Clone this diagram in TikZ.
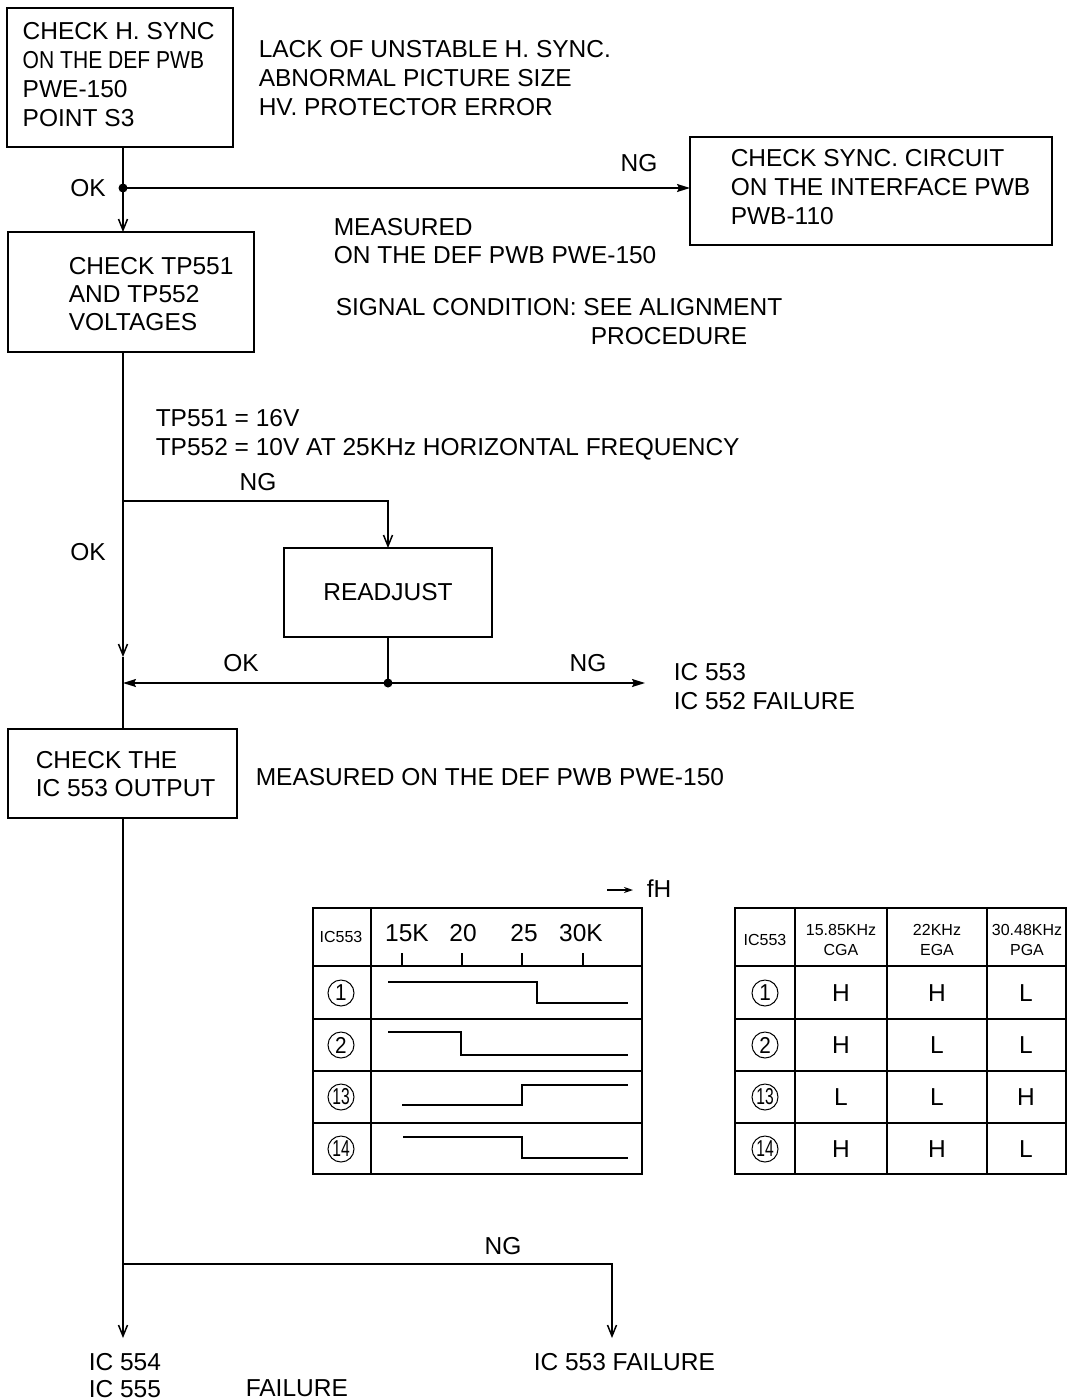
\documentclass[tikz,border=0pt]{standalone}
\usepackage{fontspec}
\setmainfont{Liberation Sans}
\usepackage{graphicx}
\usetikzlibrary{arrows.meta}
\newcommand\fsmain{\fontsize{24.5}{29}\selectfont}
\newcommand\fssmall{\fontsize{16}{20}\selectfont}
\newcommand\fscirc{\fontsize{23}{24}\selectfont}
\newcommand\cnum[1]{\makebox[0pt]{\scalebox{0.9}[1]{#1}}}
\newcommand\cnumm[1]{\makebox[0pt]{\scalebox{0.68}[1]{#1}}}
\begin{document}
\begin{tikzpicture}[x=1pt,y=-1pt,line width=1.5pt,
  box/.style={draw, line width=1.6pt, rectangle, inner sep=0pt, outer sep=0pt, anchor=north west, font=\fsmain},
  txt/.style={inner sep=0pt, align=left, font=\fsmain, anchor=north west},
  lbl/.style={inner sep=0pt, font=\fsmain},
  small/.style={inner sep=0pt, align=center, font=\fssmall},
  circ/.style={circle, draw, line width=1pt, minimum size=26pt, inner sep=0pt, font=\fscirc},
  arr/.style={-{Straight Barb[length=11pt,width=9pt]}},
  arrf/.style={-{Stealth[length=13pt,width=8pt,inset=2pt]}},
  jdot/.style={circle, fill, inner sep=0pt, minimum size=9pt}
]
\useasboundingbox (0,0) rectangle (1072,1400);
\fill[white] (0,0) rectangle (1072,1400);

% ---------- boxes ----------
\node[box, minimum width=226pt, minimum height=139pt] (b1) at (7,8) {};
\node[txt] (b1t) at (22,21.2) {CHECK H. SYNC\\\scalebox{0.86}[1]{ON THE DEF PWB}\\PWE-150\\POINT S3};
\node[txt] (lack) at (258,39.2) {LACK OF UNSTABLE H. SYNC.\\ABNORMAL PICTURE SIZE\\HV. PROTECTOR ERROR};

\node[box, minimum width=362pt, minimum height=108pt] (b3) at (690,137) {};
\node[txt] (b3t) at (730,148.2) {CHECK SYNC. CIRCUIT\\ON THE INTERFACE PWB\\PWB-110};

\node[box, minimum width=246pt, minimum height=120pt] (b2) at (8,232) {};
\node[txt] (b2t) at (68,256.2) {CHECK TP551\\[-1pt]AND TP552\\[-1pt]VOLTAGES};

\node[txt] (meas1) at (333,217.2) {MEASURED\\[-1pt]ON THE DEF PWB PWE-150};
\node[txt] (sig) at (335,297.2) {SIGNAL CONDITION: SEE ALIGNMENT};
\node[txt] (proc) at (590,326.2) {PROCEDURE};

\node[txt] (tp) at (155,408.2) {TP551 = 16V\\TP552 = 10V AT 25KHz HORIZONTAL FREQUENCY};

\node[box, minimum width=208pt, minimum height=89pt] (b5) at (284,548) {READJUST};

\node[txt] (ic553a) at (673,662.2) {IC 553\\IC 552 FAILURE};

\node[box, minimum width=229pt, minimum height=89pt] (b4) at (8,729) {};
\node[txt] (b4t) at (35,750.2) {CHECK THE\\[-1pt]IC 553 OUTPUT};
\node[txt] (meas2) at (255,767.2) {MEASURED ON THE DEF PWB PWE-150};

\node[txt] (ic554) at (88,1352.2) {IC 554\\[-2pt]IC 555};
\node[txt] (fail1) at (245,1379.2) {FAILURE};
\node[txt] (fail2) at (533,1352.2) {IC 553 FAILURE};

% ---------- labels ----------
\node[lbl] (ok1) at (88,188) {OK};
\node[lbl] (ng1) at (639,163) {NG};
\node[lbl] (ng2) at (258,482) {NG};
\node[lbl] (ok2) at (88,552) {OK};
\node[lbl] (ok3) at (241,663) {OK};
\node[lbl] (ng3) at (588,663) {NG};
\node[lbl] (ng4) at (503,1246) {NG};

% ---------- connectors ----------
\coordinate (j1) at (123,188);
\draw (b1.south -| j1) -- (j1);
\draw[arr] (j1) -- (b2.north -| j1);
\draw[arrf] (j1) -- (j1 -| b3.west);
\node[jdot] (j1d) at (j1) {};

\coordinate (s1) at (123,501);
\coordinate (a1) at (123,657);
\draw[arr] (b2.south -| s1) -- (a1);
\draw (a1) -- (b4.north -| a1);
\draw[arr] (s1) -| (b5.north);

\path (b5.south) ++(0,46) coordinate (j2);
\coordinate (e1) at (645,683);
\draw (b5.south) -- (j2);
\draw[arrf] (j2) -- (j2 -| s1);
\draw[arrf] (j2) -- (e1);
\node[jdot] (j2d) at (j2) {};

\coordinate (s2) at (123,1264);
\coordinate (e2) at (123,1338);
\coordinate (e3) at (612,1338);
\draw[arr] (b4.south -| s2) -- (e2);
\draw[arr] (s2) -| (e3);

% ---------- table 1 (timing) ----------
\draw (313,908) rectangle (642,1174);
\draw (371,908) -- (371,1174);
\foreach \y in {966,1019,1071,1123} \draw (313,\y) -- (642,\y);
\foreach \x in {402,462,522,583} \draw (\x,953) -- (\x,966);
\node[small] (t1h) at (341,937) {IC553};
\node[lbl] (f15) at (407,933) {15K};
\node[lbl] (f20) at (463,933) {20};
\node[lbl] (f25) at (524,933) {25};
\node[lbl] (f30) at (581,933) {30K};
\node[lbl, anchor=west] (fh) at (646,889) {fH};
\coordinate (fha) at (607,890);
\draw[-{Stealth[length=9pt,width=6pt]}] (fha) -- ++(26,0);
\node[circ] (c1a) at (341,993) {\cnum{1}};
\node[circ] (c2a) at (341,1045) {\cnum{2}};
\node[circ] (c13a) at (341,1097) {\cnumm{13}};
\node[circ] (c14a) at (341,1149) {\cnumm{14}};
\draw (388,982) -- (537,982) -- (537,1003) -- (628,1003);
\draw (388,1032) -- (461,1032) -- (461,1055) -- (628,1055);
\draw (402,1105) -- (522,1105) -- (522,1085) -- (628,1085);
\draw (403,1137) -- (522,1137) -- (522,1158) -- (628,1158);

% ---------- table 2 (levels) ----------
\draw (735,908) rectangle (1066,1174);
\foreach \x in {795,887,987} \draw (\x,908) -- (\x,1174);
\foreach \y in {966,1019,1071,1123} \draw (735,\y) -- (1066,\y);
\node[small] (t2h) at (765,940) {IC553};
\node[small] (cga) at (841,940) {15.85KHz\\CGA};
\node[small] (ega) at (937,940) {22KHz\\EGA};
\node[small] (pga) at (1027,940) {30.48KHz\\PGA};
\node[circ] (c1b) at (765,993) {\cnum{1}};
\node[circ] (c2b) at (765,1045) {\cnum{2}};
\node[circ] (c13b) at (765,1097) {\cnumm{13}};
\node[circ] (c14b) at (765,1149) {\cnumm{14}};
\node[lbl] (v11) at (841,993) {H};
\node[lbl] (v12) at (937,993) {H};
\node[lbl] (v13) at (1026,993) {L};
\node[lbl] (v21) at (841,1045) {H};
\node[lbl] (v22) at (937,1045) {L};
\node[lbl] (v23) at (1026,1045) {L};
\node[lbl] (v31) at (841,1097) {L};
\node[lbl] (v32) at (937,1097) {L};
\node[lbl] (v33) at (1026,1097) {H};
\node[lbl] (v41) at (841,1149) {H};
\node[lbl] (v42) at (937,1149) {H};
\node[lbl] (v43) at (1026,1149) {L};
\end{tikzpicture}
\end{document}
